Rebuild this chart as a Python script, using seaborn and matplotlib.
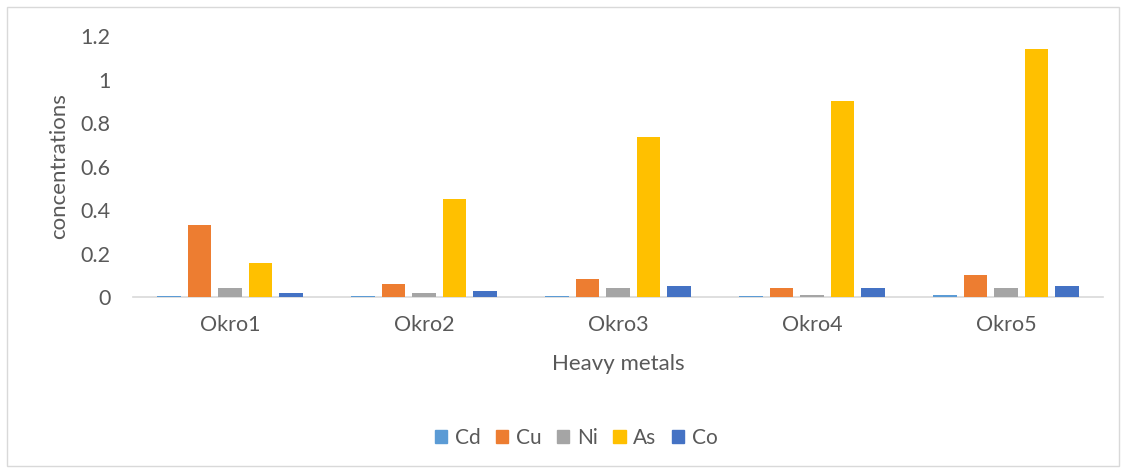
import matplotlib
matplotlib.use("Agg")
import matplotlib.pyplot as plt
from matplotlib.patches import Rectangle
import pandas as pd
import seaborn as sns

samples = ["Okro1", "Okro2", "Okro3", "Okro4", "Okro5"]
metals = ["Cd", "Cu", "Ni", "As", "Co"]
cd = [0.005, 0.003, 0.006, 0.005, 0.008]
cu = [0.33, 0.061, 0.081, 0.040, 0.10]
ni = [0.041, 0.020, 0.040, 0.010, 0.040]
as_ = [0.158, 0.45, 0.736, 0.90, 1.14]
co = [0.020, 0.028, 0.050, 0.042, 0.052]
palette = ["#5B9BD5", "#ED7D31", "#A5A5A5", "#FFC000", "#4472C4"]
y_ticks = [0, 0.2, 0.4, 0.6, 0.8, 1, 1.2]
y_tick_labels = ["0", "0.2", "0.4", "0.6", "0.8", "1", "1.2"]

values = {"Cd": cd, "Cu": cu, "Ni": ni, "As": as_, "Co": co}
rows = [(s, m, values[m][i]) for m in metals for i, s in enumerate(samples)]
df = pd.DataFrame(rows, columns=["sample", "metal", "value"])

sns.set_theme(style="white")
plt.rcParams["font.family"] = ["Lato", "DejaVu Sans"]

W, H = 1126, 473
fig = plt.figure(figsize=(W / 100, H / 100), dpi=100)
ax = fig.add_axes([133 / W, 1 - 297 / H, (1103 - 133) / W, (297 - 36) / H])

sns.barplot(data=df, x="sample", y="value", hue="metal", hue_order=metals,
            order=samples, palette=palette, width=0.786, gap=0.22,
            linewidth=0, saturation=1, ax=ax, legend=False)

ax.set_ylim(0, 1.2)
ax.set_xlim(-0.5, 4.5)
ax.set_yticks(y_ticks)
ax.set_yticklabels(y_tick_labels)
ax.tick_params(axis="both", length=0, labelsize=15.5, colors="#595959")
ax.tick_params(axis="y", pad=16)
ax.tick_params(axis="x", pad=13)
for side in ["top", "right", "left"]:
    ax.spines[side].set_visible(False)
ax.spines["bottom"].set_color("#D9D9D9")
ax.spines["bottom"].set_linewidth(1.2)
ax.spines["bottom"].set_zorder(0.5)

ax.set_xlabel("Heavy metals", fontsize=16, color="#595959", labelpad=14)
ax.set_ylabel("concentrations", fontsize=16, color="#595959", labelpad=8)

handles = [Rectangle((0, 0), 1, 1, color=c) for c in palette]
fig.legend(handles, metals, loc="center", bbox_to_anchor=(576 / W, 1 - 438 / H),
           ncol=5, frameon=False, fontsize=15, handlelength=0.6, handleheight=0.6,
           handletextpad=0.35, columnspacing=0.75, labelcolor="#595959")

# thin border around the whole chart
fig.add_artist(Rectangle((7 / W, 1 - 466 / H), 1112 / W, 459 / H,
                         transform=fig.transFigure, fill=False,
                         edgecolor="#D9D9D9", linewidth=1))

fig.savefig("out.png", dpi=100, facecolor="white")
